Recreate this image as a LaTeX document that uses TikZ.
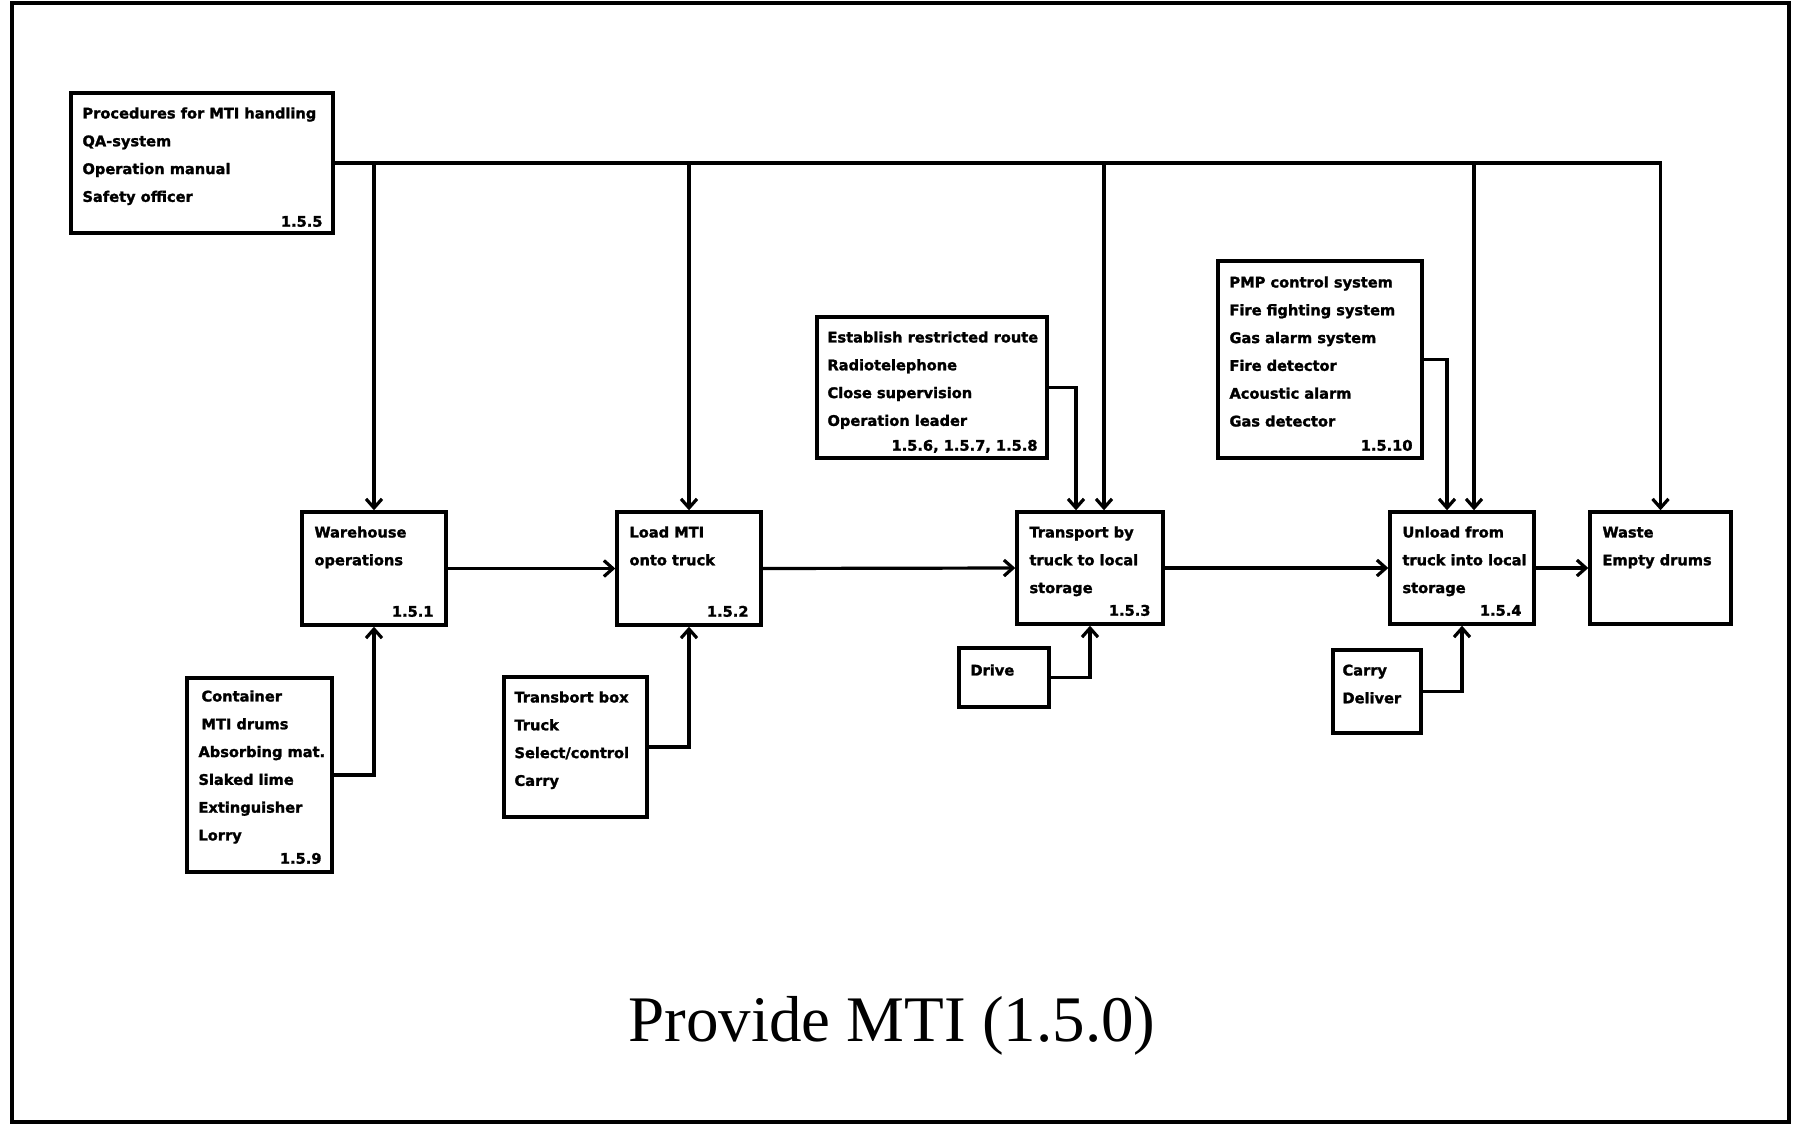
\documentclass[tikz,border=0pt]{standalone}
\usepackage{fontspec}
\usetikzlibrary{arrows.meta}
\newfontfamily\boxfamily{DejaVu Sans}[BoldFeatures={FakeBold=1.6}]
\newfontfamily\titlefamily{Liberation Serif}
\begin{document}
\begin{tikzpicture}[x=1pt,y=-1pt,
  box/.style={draw, line width=3.4pt, rectangle, inner sep=0pt},
  txt/.style={anchor=north west, inner sep=0pt, align=left,
    font=\boxfamily\bfseries\fontsize{14.6}{27.8}\selectfont},
  num/.style={anchor=base east, inner sep=0pt,
    font=\boxfamily\bfseries\fontsize{14.6}{27.8}\selectfont},
  conn/.style={line width=3.2pt, -{Straight Barb[length=9pt,width=16pt]}},
]
\useasboundingbox (0,0) rectangle (1795,1126);
\draw[line width=3.6pt] (12,3) rectangle (1789,1122);

% activity boxes
\node[box, minimum width=144pt, minimum height=113pt] (wh) at (374,568.5) {};
\node[box, minimum width=144pt, minimum height=113pt] (ld) at (689,568.5) {};
\node[box, minimum width=146pt, minimum height=112pt] (tr) at (1090,568) {};
\node[box, minimum width=144pt, minimum height=112pt] (ul) at (1462,568) {};
\node[box, minimum width=141pt, minimum height=112pt] (ws) at (1660.5,568) {};

% control boxes
\node[box, minimum width=262pt, minimum height=140pt] (p155) at (202,163) {};
\node[box, minimum width=230pt, minimum height=141pt] (est) at (932,387.5) {};
\node[box, minimum width=204pt, minimum height=197pt] (pmp) at (1320,359.5) {};

% mechanism boxes
\node[box, minimum width=145pt, minimum height=194pt] (cont) at (259.5,775) {};
\node[box, minimum width=143pt, minimum height=140pt] (trb) at (575.5,747) {};
\node[box, minimum width=90pt, minimum height=59pt] (drv) at (1004,677.5) {};
\node[box, minimum width=88pt, minimum height=83pt] (car) at (1377,691.5) {};

% box texts
\node[txt] (wht) at ([shift={(14,7.5)}]wh.north west) {\strut Warehouse\\operations};
\node[num] (whn) at ([shift={(-14,-10)}]wh.south east) {1.5.1};
\node[txt] (ldt) at ([shift={(14,7.5)}]ld.north west) {\strut Load MTI\\onto truck};
\node[num] (ldn) at ([shift={(-14,-10)}]ld.south east) {1.5.2};
\node[txt] (trt) at ([shift={(14,7.5)}]tr.north west) {\strut Transport by\\truck to local\\storage};
\node[num] (trn) at ([shift={(-14,-10)}]tr.south east) {1.5.3};
\node[txt] (ult) at ([shift={(14,7.5)}]ul.north west) {\strut Unload from\\truck into local\\storage};
\node[num] (uln) at ([shift={(-14,-10)}]ul.south east) {1.5.4};
\node[txt] (wst) at ([shift={(14,7.5)}]ws.north west) {\strut Waste\\Empty drums};

\node[txt] (p155t) at ([shift={(13,7.5)}]p155.north west) {\strut Procedures for MTI handling\\QA-system\\Operation manual\\Safety officer};
\node[num] (p155n) at ([shift={(-12,-8)}]p155.south east) {1.5.5};
\node[txt] (estt) at ([shift={(12,7.5)}]est.north west) {\strut Establish restricted route\\Radiotelephone\\Close supervision\\Operation leader};
\node[num] (estn) at ([shift={(-11,-9)}]est.south east) {1.5.6, 1.5.7, 1.5.8};
\node[txt] (pmpt) at ([shift={(13,8.5)}]pmp.north west) {\strut PMP control system\\Fire fighting system\\Gas alarm system\\Fire detector\\Acoustic alarm\\Gas detector};
\node[num] (pmpn) at ([shift={(-11,-9)}]pmp.south east) {1.5.10};

\node[txt] (contt) at ([shift={(13,5.5)}]cont.north west) {\strut\hspace*{3pt}Container\\\hspace*{3pt}MTI drums\\Absorbing mat.\\Slaked lime\\Extinguisher\\Lorry};
\node[num] (contn) at ([shift={(-12,-10)}]cont.south east) {1.5.9};
\node[txt] (trbt) at ([shift={(12,7.5)}]trb.north west) {\strut Transbort box\\Truck\\Select/control\\Carry};
\node[txt] (drvt) at ([shift={(13,9.5)}]drv.north west) {\strut Drive};
\node[txt] (cart) at ([shift={(11,7.5)}]car.north west) {\strut Carry\\Deliver};

% split arrow points on the top edges
\coordinate (trL) at ([xshift=-14pt]tr.north);
\coordinate (trR) at ([xshift=14pt]tr.north);
\coordinate (ulL) at ([xshift=-15pt]ul.north);
\coordinate (ulR) at ([xshift=12pt]ul.north);

% control bus
\draw[conn] (p155.east) -| (ws.north);
\draw[conn] (p155.east -| wh.north) -- (wh.north);
\draw[conn] (p155.east -| ld.north) -- (ld.north);
\draw[conn] (p155.east -| trR) -- (trR);
\draw[conn] (p155.east -| ulR) -- (ulR);
\draw[conn] (est.east) -| (trL);
\draw[conn] (pmp.east) -| (ulL);

% main flow
\draw[conn] (wh.east) -- (ld.west);
\draw[conn] (ld.east) -- (tr.west);
\draw[conn] (tr.east) -- (ul.west);
\draw[conn] (ul.east) -- (ws.west);

% mechanisms
\draw[conn] (cont.east) -| (wh.south);
\draw[conn] (trb.east) -| (ld.south);
\draw[conn] (drv.east) -| (tr.south);
\draw[conn] (car.east) -| (ul.south);

% title
\node[font=\titlefamily\fontsize{65}{70}\selectfont, anchor=base, inner sep=0pt] (title) at (892,1041) {Provide MTI (1.5.0)};
\end{tikzpicture}
\end{document}
